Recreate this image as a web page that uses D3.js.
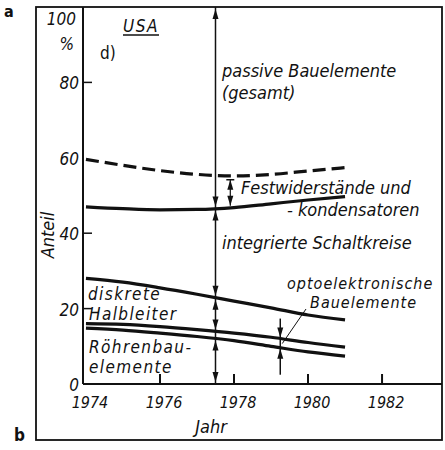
<!DOCTYPE html>
<html>
<head>
<meta charset="utf-8">
<script src="https://cdn.jsdelivr.net/npm/d3@7"></script>
<style>
  body { margin: 0; background: #fff; }
  text { font-family: "DejaVu Sans Condensed", "DejaVu Sans", sans-serif; font-style: italic; fill: #111; }
</style>
</head>
<body>
<script>
// data (share in %)
const years = [1974, 1975, 1976, 1977, 1978, 1979, 1980, 1981];
const passiveTop = [59.6, 58.0, 56.6, 55.6, 55.2, 55.6, 56.5, 57.4];   // dashed
const icTop = [47.0, 46.5, 46.2, 46.3, 46.8, 47.8, 48.8, 49.7];
const discreteTop = [28.0, 27.0, 25.5, 23.8, 22.0, 20.2, 18.3, 17.0];
const semiBottom = [16.0, 15.8, 15.2, 14.4, 13.5, 12.4, 11.0, 9.8];
const tubeTop = [14.8, 14.3, 13.5, 12.6, 11.5, 10.0, 8.5, 7.4];

const xTickYears = [1974, 1976, 1978, 1980, 1982];
const yTickValues = [0, 20, 40, 60, 80];
const markYear = 1977.5;
const optoYear = 1979.25;
const festYear = 1977.9;

const width = 445, height = 450;
const ink = "#111";

const svg = d3.select("body").append("svg")
  .attr("width", width).attr("height", height);

const x = d3.scaleLinear().domain([1973.92, 1983.62]).range([83, 442]);
const y = d3.scaleLinear().domain([0, 100]).range([384, 7]);

// frame
svg.append("rect")
  .attr("x", 36).attr("y", 7).attr("width", 406).attr("height", 433)
  .attr("fill", "none").attr("stroke", ink).attr("stroke-width", 1.8);

// axes
svg.append("line").attr("x1", x.range()[0]).attr("x2", x.range()[1])
  .attr("y1", y(0)).attr("y2", y(0)).attr("stroke", ink).attr("stroke-width", 2);
svg.append("line").attr("x1", x.range()[0]).attr("x2", x.range()[0])
  .attr("y1", y(0)).attr("y2", y(100)).attr("stroke", ink).attr("stroke-width", 2);

// x ticks (inward) and labels
svg.selectAll(".xt").data(xTickYears.filter(d => d > 1974)).join("line")
  .attr("x1", d => x(d)).attr("x2", d => x(d))
  .attr("y1", y(0)).attr("y2", y(0) - 10)
  .attr("stroke", ink).attr("stroke-width", 2);
svg.selectAll(".xl").data(xTickYears).join("text")
  .attr("x", d => x(d) + 4).attr("y", 408)
  .attr("text-anchor", "middle").attr("font-size", 16)
  .text(d => d);

// y ticks and labels
svg.selectAll(".yt").data(yTickValues.filter(d => d > 0 && d != 60)).join("line")
  .attr("x1", x.range()[0]).attr("x2", x.range()[0] + 9)
  .attr("y1", d => y(d)).attr("y2", d => y(d))
  .attr("stroke", ink).attr("stroke-width", 1.5);
svg.selectAll(".yl").data(yTickValues).join("text")
  .attr("x", 79).attr("y", d => y(d) + 7)
  .attr("text-anchor", "end").attr("font-size", 17)
  .text(d => d);
svg.append("text").attr("x", 76).attr("y", 25)
  .attr("text-anchor", "end").attr("font-size", 17).text("100");
svg.append("text").attr("x", 74).attr("y", 50)
  .attr("text-anchor", "end").attr("font-size", 17).text("%");

svg.append("text").attr("transform", "translate(54,235) rotate(-90)")
  .attr("text-anchor", "middle").attr("font-size", 18).text("Anteil");
svg.append("text").attr("x", 211).attr("y", 433)
  .attr("text-anchor", "middle").attr("font-size", 18).text("Jahr");

// curves
const line = d3.line().x((d, i) => x(years[i])).y(d => y(d)).curve(d3.curveMonotoneX);
[icTop, discreteTop, semiBottom, tubeTop].forEach(s => {
  svg.append("path").attr("d", line(s))
    .attr("fill", "none").attr("stroke", ink).attr("stroke-width", 3.2);
});
svg.append("path").attr("d", line(passiveTop))
  .attr("fill", "none").attr("stroke", ink).attr("stroke-width", 3.2)
  .attr("stroke-dasharray", "13,6");

// helpers for arrows
const interp = (s, yr) => {
  const i = d3.bisectRight(years, yr) - 1;
  const t = (yr - years[i]) / (years[i + 1] - years[i]);
  return s[i] + t * (s[i + 1] - s[i]);
};
function head(px, py, dir) { // dir: -1 points up, 1 points down
  svg.append("path")
    .attr("d", `M${px},${py} L${px - 3},${py - dir * 10} L${px + 3},${py - dir * 10} Z`)
    .attr("fill", ink);
}
function vline(px, y1, y2, w) {
  svg.append("line").attr("x1", px).attr("x2", px).attr("y1", y1).attr("y2", y2)
    .attr("stroke", ink).attr("stroke-width", w || 1.5);
}

// main dimension arrow
const mx = x(markYear);
vline(mx, y(100), y(0));
const segs = [
  [100, interp(icTop, markYear)],
  [interp(icTop, markYear), interp(discreteTop, markYear)],
  [interp(discreteTop, markYear), interp(semiBottom, markYear)],
  [interp(tubeTop, markYear), 0]
];
segs.forEach(([a, b]) => {
  head(mx, y(a) + 2, -1);
  head(mx, y(b) - 2, 1);
});

// Festwiderstände arrow
const fx = x(festYear);
const fTop = y(interp(passiveTop, festYear)) + 4, fBot = y(interp(icTop, festYear)) - 2;
svg.append("line").attr("x1", fx - 4).attr("x2", fx + 4).attr("y1", fTop).attr("y2", fTop)
  .attr("stroke", ink).attr("stroke-width", 1.5);
vline(fx, fTop, fBot, 1.2);
head(fx, fTop, -1);
head(fx, fBot, 1);

// opto arrow
const ox = x(optoYear);
const oTop = y(interp(semiBottom, optoYear)), oBot = y(interp(tubeTop, optoYear));
vline(ox, oTop - 20, oBot + 27);
head(ox, oTop - 1, 1);
head(ox, oBot + 1, -1);
svg.append("line").attr("x1", ox + 2).attr("y1", oTop + 5).attr("x2", 306).attr("y2", 309)
  .attr("stroke", ink).attr("stroke-width", 1);

// labels
const lab = (tx, ty, t, fs, ls) => svg.append("text").attr("x", tx).attr("y", ty)
  .attr("font-size", fs || 18).attr("letter-spacing", ls || 0).text(t);
lab(123, 32, "USA", 17, 1.5);
svg.append("line").attr("x1", 123).attr("x2", 159).attr("y1", 35).attr("y2", 35)
  .attr("stroke", ink).attr("stroke-width", 1.3);
svg.append("text").attr("x", 100).attr("y", 59).attr("font-size", 17)
  .style("font-style", "normal").text("d)");
lab(222, 77, "passive Bauelemente");
lab(222, 99, "(gesamt)");
lab(241, 194, "Festwiderstände und");
lab(287, 216, "- kondensatoren");
lab(222, 249, "integrierte Schaltkreise");
lab(287, 289, "optoelektronische", 16, 1);
lab(310, 308, "Bauelemente", 16, 1);
lab(88, 300, "diskrete", 17, 1.4);
lab(89, 320, "Halbleiter", 17, 1.4);
lab(89, 353, "Röhrenbau-", 17, 1.4);
lab(89, 373, "elemente", 17, 1.4);

// panel letters
svg.append("text").attr("x", 4).attr("y", 17).attr("font-size", 16)
  .style("font-style", "normal").attr("font-weight", "bold")
  .attr("font-family", "DejaVu Sans").text("a");
svg.append("text").attr("x", 14).attr("y", 441).attr("font-size", 17)
  .style("font-style", "normal").attr("font-weight", "bold")
  .attr("font-family", "DejaVu Sans").text("b");
</script>
</body>
</html>
